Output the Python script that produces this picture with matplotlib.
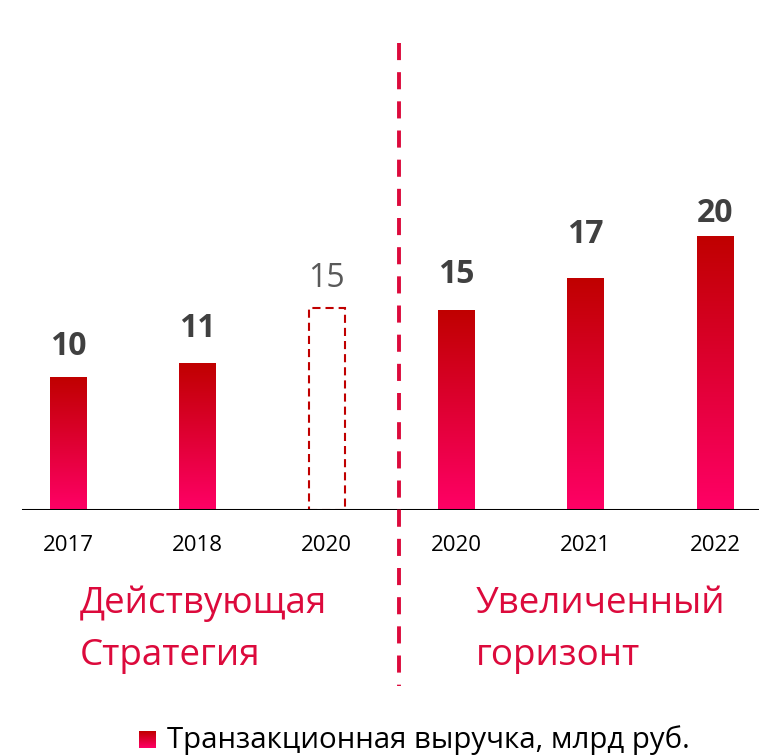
import matplotlib.pyplot as plt
import numpy as np
from matplotlib.colors import LinearSegmentedColormap
from matplotlib.lines import Line2D

plt.rcParams['font.family'] = ['Open Sans', 'DejaVu Sans']

years = ['2017', '2018', '2020', '2020', '2021', '2022']
values = [10.0, 11.05, 15.2, 15.0, 17.4, 20.6]
value_labels = ['10', '11', '15', '15', '17', '20']
is_plan = [False, False, True, False, False, False]
label_gap = [1.65, 1.95, 1.58, 2.1, 2.7, 1.05]   # gap above bar, data units

red = '#DC0A3C'
grad = LinearSegmentedColormap.from_list('grad', ['#FF0066', '#C00000'])
gradient = np.linspace(0, 1, 256).reshape(-1, 1)

fig = plt.figure(figsize=(7.59, 7.55), dpi=100)
ax = fig.add_axes([0, 245 / 755, 1, 510 / 755])
x = np.arange(len(years))

bars = ax.bar(x, values, width=0.28, color='none', edgecolor='none')
for bar, plan, lab, gap in zip(bars, is_plan, value_labels, label_gap):
    x0, w, h = bar.get_x(), bar.get_width(), bar.get_height()
    if plan:
        bar.set_edgecolor('#C00000')
        bar.set_linewidth(1.5)
        bar.set_linestyle((0, (3.9, 2.4)))
        ax.text(x0 + w / 2, h + gap, lab, ha='center', va='baseline',
                fontsize=23, color='#595959')
    else:
        ax.imshow(gradient, extent=[x0, x0 + w, 0, h], origin='lower',
                  cmap=grad, aspect='auto', zorder=2)
        ax.text(x0 + w / 2, h + gap, lab, ha='center', va='baseline',
                fontsize=23, fontweight='bold', color='#404040')

ax.set_xlim(-0.525, 5.34)
ax.set_ylim(0, 38.35)
ax.axhline(0, xmin=23 / 759, xmax=1, color='black', lw=2.2, zorder=3)
for s in ax.spines.values():
    s.set_visible(False)
ax.set_yticks([])
ax.set_xticks(x, years, fontsize=16)
ax.tick_params(axis='x', length=0, pad=18)

# divider between current strategy and extended horizon
fig.add_artist(Line2D([399 / 759, 399 / 759], [1 - 43 / 755, 1 - 686 / 755],
                      transform=fig.transFigure, color=red, lw=2.8,
                      dashes=(4.4, 3.1)))

fig.text(80 / 759, 1 - 586 / 755, 'Действующая\nСтратегия', va='top', ha='left',
         fontsize=26.5, color=red, linespacing=1.58)
fig.text(476 / 759, 1 - 586 / 755, 'Увеличенный\nгоризонт', va='top', ha='left',
         fontsize=26.5, color=red, linespacing=1.58)

# legend
lax = fig.add_axes([139 / 759, 1 - 748 / 755, 17 / 759, 17 / 755])
lax.imshow(gradient, origin='lower', cmap=grad, aspect='auto')
lax.axis('off')
fig.text(167 / 759, 1 - 740 / 755, 'Транзакционная выручка, млрд руб.',
         va='center', ha='left', fontsize=21.2, color='black')

fig.savefig('out.png', dpi=100)
